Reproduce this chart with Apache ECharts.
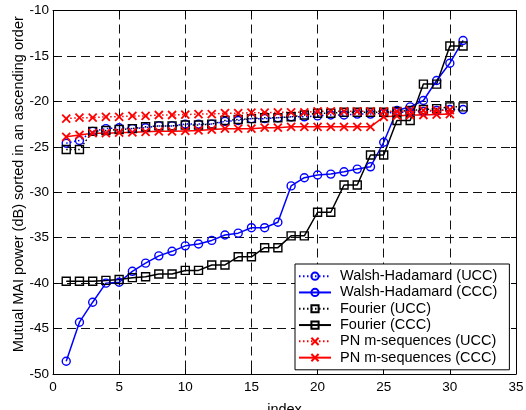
<!DOCTYPE html>
<html><head><meta charset="utf-8">
<script src="https://cdn.jsdelivr.net/npm/echarts@6/dist/echarts.min.js"></script>
<style>html,body{margin:0;padding:0;background:#fff}#c{width:526px;height:410px}</style>
</head><body><div id="c"></div>
<script>
const index = [1,2,3,4,5,6,7,8,9,10,11,12,13,14,15,16,17,18,19,20,21,22,23,24,25,26,27,28,29,30,31];
const whUCC = [-24.6,-24.3,-23.3,-23.0,-22.9,-23.0,-22.9,-22.7,-22.7,-22.5,-22.5,-22.5,-22.2,-22.1,-21.9,-21.9,-21.8,-21.7,-21.7,-21.6,-21.5,-21.5,-21.4,-21.4,-21.3,-21.2,-21.2,-21.1,-21.0,-20.9,-20.9];
const whCCC = [-48.6,-44.3,-42.1,-40.0,-39.9,-38.7,-37.8,-37.0,-36.5,-35.9,-35.7,-35.3,-34.7,-34.5,-33.9,-33.9,-33.3,-29.3,-28.4,-28.1,-28.0,-27.75,-27.45,-27.2,-24.5,-21.0,-20.6,-19.9,-17.7,-15.8,-13.3];
const fUCC = [-25.3,-25.3,-23.3,-23.2,-23.1,-23.0,-22.8,-22.7,-22.7,-22.6,-22.6,-22.5,-22.1,-22.0,-21.9,-21.8,-21.8,-21.7,-21.5,-21.3,-21.3,-21.2,-21.2,-21.2,-21.2,-21.1,-21.0,-20.9,-20.8,-20.6,-20.6];
const fCCC = [-39.8,-39.8,-39.8,-39.7,-39.6,-39.4,-39.3,-39.0,-39.0,-38.6,-38.6,-38.0,-38.0,-37.1,-37.1,-36.1,-36.1,-34.8,-34.8,-32.2,-32.2,-29.2,-29.2,-25.9,-25.9,-22.1,-22.1,-18.1,-18.1,-13.9,-13.9];
const pnUCC = [-21.9,-21.8,-21.8,-21.7,-21.7,-21.6,-21.6,-21.5,-21.5,-21.45,-21.4,-21.4,-21.3,-21.3,-21.25,-21.25,-21.2,-21.2,-21.2,-21.1,-21.1,-21.1,-21.1,-21.1,-21.1,-21.1,-21.0,-21.0,-21.0,-20.95];
const pnCCC = [-23.9,-23.7,-23.5,-23.5,-23.45,-23.4,-23.35,-23.3,-23.3,-23.25,-23.2,-23.1,-23.0,-23.0,-23.0,-22.9,-22.9,-22.8,-22.8,-22.8,-22.8,-22.8,-22.8,-22.8,-21.7,-21.6,-21.5,-21.5,-21.45,-21.4];
const seriesNames = ['Walsh-Hadamard (UCC)','Walsh-Hadamard (CCC)','Fourier (UCC)','Fourier (CCC)','PN m-sequences (UCC)','PN m-sequences (CCC)'];
const xName = 'index';
const yName = 'Mutual MAI power (dB) sorted in an ascending order';
const xMin = 0, xMax = 35, xStep = 5;
const yMin = -50, yMax = -10, yStep = 5;

const FONT = '"Liberation Sans", Arial, Helvetica, sans-serif';
const pair = (vals) => vals.map((v, k) => [index[k], v]);
const X_PATH = 'path://M0,0L10,10M0,10L10,0';
const DOT = [1.5, 2.5];

function mk(name, vals, color, symbol, dotted, bw) {
  return {
    name, type: 'line', data: pair(vals),
    symbol, symbolSize: 8,
    lineStyle: { color, width: 1.5, type: dotted ? DOT : 'solid' },
    itemStyle: { color: 'rgba(0,0,0,0)', borderColor: color, borderWidth: bw || 1.4 },
    emphasis: { disabled: true },
    z: 3
  };
}

const chart = echarts.init(document.getElementById('c'), null, { renderer: 'canvas' });
const axCommon = {
  type: 'value',
  axisLine: { show: true, onZero: false, lineStyle: { color: '#000', width: 1 } },
  axisTick: { show: true, inside: true, length: 5, lineStyle: { color: '#000' } },
};
chart.setOption({
  animation: false,
  backgroundColor: '#fff',
  grid: { left: 53, right: 10, top: 10.5, bottom: 36, containLabel: false, outerBoundsMode: 'none' },
  xAxis: [
    Object.assign({}, axCommon, {
      min: xMin, max: xMax, interval: xStep, position: 'bottom',
      name: xName, nameLocation: 'middle', nameGap: 28, nameMoveOverlap: false,
      nameTextStyle: { fontFamily: FONT, fontSize: 14.5, color: '#000' },
      axisLabel: { fontFamily: FONT, fontSize: 13.5, color: '#000', margin: 6 },
      splitLine: { show: true, lineStyle: { color: '#111', type: [9, 5], width: 1 } }
    }),
    Object.assign({}, axCommon, {
      min: xMin, max: xMax, interval: xStep, position: 'top',
      axisLabel: { show: false }, splitLine: { show: false }
    })
  ],
  yAxis: [
    Object.assign({}, axCommon, {
      min: yMin, max: yMax, interval: yStep, position: 'left',
      name: yName, nameLocation: 'middle', nameGap: 27, nameMoveOverlap: false,
      nameTextStyle: { fontFamily: FONT, fontSize: 14.5, color: '#000', padding: [0, 0, 0, 16] },
      axisLabel: { fontFamily: FONT, fontSize: 13.5, color: '#000', margin: 4 },
      splitLine: { show: true, lineStyle: { color: '#111', type: [9, 5], width: 1 } }
    }),
    Object.assign({}, axCommon, {
      min: yMin, max: yMax, interval: yStep, position: 'right',
      axisLabel: { show: false }, splitLine: { show: false }
    })
  ],
  legend: {
    orient: 'vertical', left: 295, top: 264,
    backgroundColor: '#fff', borderColor: '#000', borderWidth: 1,
    padding: [4, 12, 4, 3], itemGap: 0, itemWidth: 32, itemHeight: 9,
    textStyle: { fontFamily: FONT, fontSize: 14.5, color: '#000', lineHeight: 16.3, padding: [0, 0, 0, 4] },
    data: seriesNames, selectedMode: false
  },
  series: [
    mk(seriesNames[0], whUCC, '#0000ff', 'circle', true),
    mk(seriesNames[1], whCCC, '#0000ff', 'circle', false),
    mk(seriesNames[2], fUCC, '#000000', 'rect', true),
    mk(seriesNames[3], fCCC, '#000000', 'rect', false),
    mk(seriesNames[4], pnUCC, '#ff0000', X_PATH, true, 1.8),
    mk(seriesNames[5], pnCCC, '#ff0000', X_PATH, false, 1.8)
  ]
});
</script>
</body></html>
